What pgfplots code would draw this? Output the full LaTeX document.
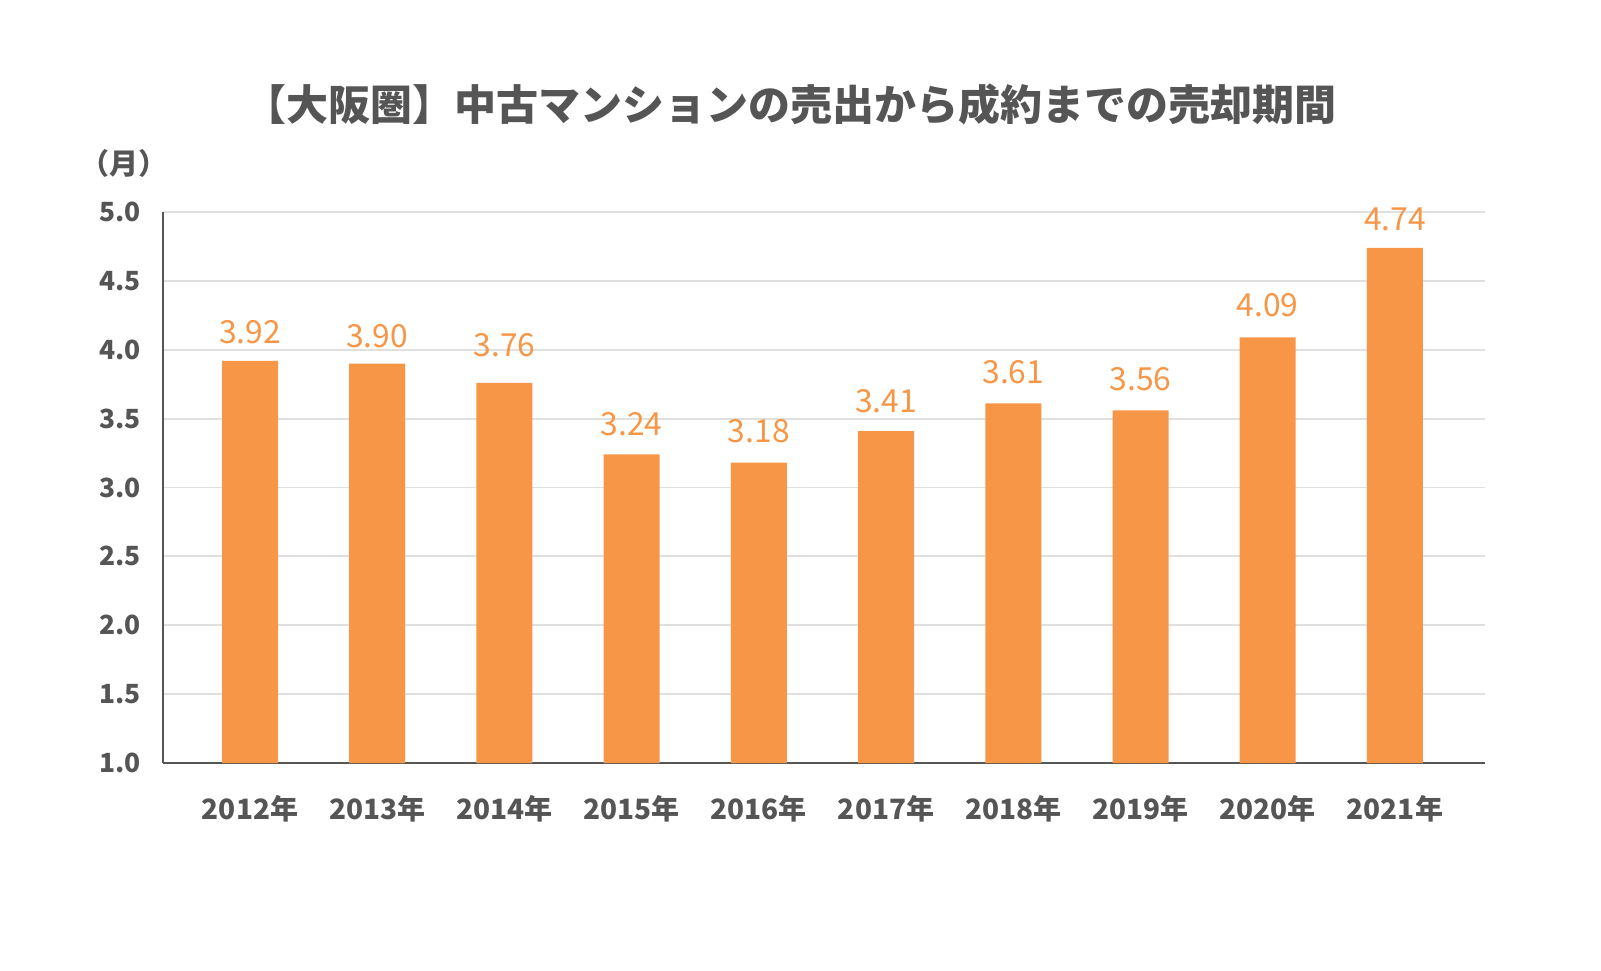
\documentclass[border=0pt]{standalone}
\usepackage{fontspec}
\setmainfont{Noto Sans CJK JP}
\usepackage{pgfplots}
\usepackage{pgfplotstable}
\pgfplotsset{compat=1.18}
\definecolor{txt}{HTML}{555555}
\definecolor{barc}{HTML}{F79646}
\definecolor{grd}{HTML}{E0E0E0}
\pgfplotstableread{
x y dy
0 3.92 8.5
1 3.90 8.0
2 3.76 13.1
3 3.24 9.5
4 3.18 10.0
5 3.41 9.5
6 3.61 10.0
7 3.56 10.0
8 4.09 10.5
9 4.74 8.5
}\datatable
\begin{document}
\begin{tikzpicture}[x=1pt,y=1pt]
\path[use as bounding box] (0,0) rectangle (800.5,485);
\begin{axis}[
  at={(81.5pt,103.5pt)}, anchor=south west,
  scale only axis, width=661pt, height=275.5pt,
  xmin=-0.684, xmax=9.708, ymin=1, ymax=5,
  ybar, bar width=28pt,
  axis x line*=bottom, axis y line*=left,
  axis line style={txt, line width=1.1pt},
  ymajorgrids, grid style={grd, line width=0.9pt},
  major tick length=0pt,
  xtick={0,...,9},
  xticklabels={2012年,2013年,2014年,2015年,2016年,2017年,2018年,2019年,2020年,2021年},
  xticklabel style={txt, font=\bfseries\fontsize{14}{15}\selectfont, anchor=base, inner sep=0pt, yshift=-28pt},
  ytick={1,1.5,2,2.5,3,3.5,4,4.5,5},
  yticklabel style={txt, font=\bfseries\fontsize{13.2}{14}\selectfont, anchor=east, inner sep=0pt, xshift=-11pt,
    /pgf/number format/.cd, fixed, fixed zerofill, precision=1, assume math mode=true},
  visualization depends on={\thisrow{dy} \as \labdy},
  nodes near coords={\pgfmathprintnumber[fixed,fixed zerofill,precision=2,assume math mode=true]{\pgfplotspointmeta}},
  every node near coord/.append style={barc, font=\fontsize{15.9}{16}\selectfont, anchor=base, inner sep=0pt, yshift=\labdy pt},
  clip=true,
]
\addplot[fill=barc, draw=none] table[x=x, y=y] {\datatable};
\end{axis}
\node[txt, font=\bfseries\fontsize{21}{22}\selectfont] at (395,432.5) {【大阪圏】中古マンションの売出から成約までの売却期間};
\node[txt, font=\bfseries\fontsize{14.5}{15}\selectfont] at (61.75,403.25) {（月）};
\end{tikzpicture}
\end{document}
